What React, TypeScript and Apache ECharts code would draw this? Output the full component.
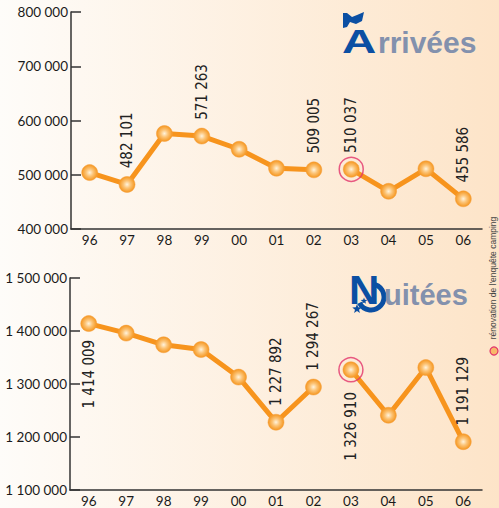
import React, { useEffect, useRef } from "react";
import * as echarts from "echarts";

const categories = ["96", "97", "98", "99", "00", "01", "02", "03", "04", "05", "06"];
const arrivees = [504000, 482101, 576000, 571263, 547000, 512000, 509005, 510037, 469500, 511000, 455586];
const nuitees = [1414009, 1396000, 1374000, 1365000, 1313000, 1227892, 1294267, 1326910, 1241000, 1331000, 1191129];
const arriveesTicks = [400000, 500000, 600000, 700000, 800000];
const nuiteesTicks = [1100000, 1200000, 1300000, 1400000, 1500000];
const breakIndex = 7; // new survey from 03
const arriveesLabelled: Record<number, "top" | "bottom"> = { 1: "top", 3: "top", 6: "top", 7: "top", 10: "top" };
const nuiteesLabelled: Record<number, "top" | "bottom"> = { 0: "bottom", 5: "top", 6: "top", 7: "bottom", 10: "top" };

const fmt = (v: number) => String(v).replace(/\B(?=(\d{3})+(?!\d))/g, " ");

const ORANGE = "#f7941d";
const BLUE = "#0b4fa3";
const GREYBLUE = "#8391ad";
const RING = "#e2336a";

function ballColor() {
  return new echarts.graphic.RadialGradient(0.5, 0.5, 0.5, [
    { offset: 0, color: "#fff3dc" },
    { offset: 0.45, color: "#fcc477" },
    { offset: 1, color: "#f5961f" },
  ]);
}

function buildItems(values: number[], labelled: Record<number, "top" | "bottom">, from: number, to: number) {
  return values.map((v, i) => {
    if (i < from || i >= to) return null;
    const side = labelled[i];
    if (!side) return { value: v };
    return {
      value: v,
      label: {
        show: true,
        position: side,
        rotate: 90,
        align: side === "top" ? "left" : "right",
        verticalAlign: "middle",
        distance: i === 7 && side === "bottom" ? 14 : 8,
        formatter: () => fmt(v),
        fontFamily: "'Liberation Sans Narrow', 'DejaVu Sans Condensed', sans-serif",
        fontSize: 15,
        color: "#222",
      },
    };
  });
}

function starPoints(cx: number, cy: number, r: number) {
  const pts: number[][] = [];
  for (let k = 0; k < 10; k++) {
    const a = -Math.PI / 2 + (k * Math.PI) / 5;
    const rr = k % 2 === 0 ? r : r * 0.42;
    pts.push([cx + rr * Math.cos(a), cy + rr * Math.sin(a)]);
  }
  return pts;
}

export default function App() {
  const ref = useRef<HTMLDivElement>(null);
  useEffect(() => {
    if (!ref.current) return;
    const chart = echarts.init(ref.current, undefined, { renderer: "svg" });

    const xAxisBase = {
      type: "category" as const,
      data: categories,
      boundaryGap: true,
      axisLine: { lineStyle: { color: "#333", width: 1.5 } },
      axisTick: { inside: true, length: 6, lineStyle: { color: "#333", width: 1.5 } },
      axisLabel: { color: "#1a1a1a", fontSize: 13.5, margin: 4, fontFamily: "Lato, sans-serif" },
      splitLine: { show: false },
    };
    const yAxisBase = {
      type: "value" as const,
      interval: 100000,
      axisLine: { show: true, lineStyle: { color: "#333", width: 1.5 } },
      axisTick: { show: true, inside: true, length: 10, lineStyle: { color: "#333", width: 1.5 } },
      axisLabel: { color: "#1a1a1a", fontSize: 13.5, margin: 3, fontFamily: "Lato, sans-serif", formatter: (v: number) => fmt(v) },
      splitLine: { show: false },
    };

    const lineSeries = (xi: number, data: any[]) => ({
      type: "line",
      xAxisIndex: xi,
      yAxisIndex: xi,
      data,
      symbol: "circle",
      symbolSize: 16,
      showAllSymbol: true,
      connectNulls: false,
      lineStyle: { color: ORANGE, width: 5 },
      itemStyle: { color: ballColor(), borderColor: "#f5a040", borderWidth: 0.5 },
      z: 3,
    });

    const ringSeries = (xi: number, values: number[]) => ({
      type: "scatter",
      xAxisIndex: xi,
      yAxisIndex: xi,
      data: [[categories[breakIndex], values[breakIndex]]],
      symbol: "circle",
      symbolSize: 24,
      itemStyle: { color: "rgba(0,0,0,0)", borderColor: RING, borderWidth: 1.5 },
      z: 4,
      silent: true,
    });

    chart.setOption({
      animation: false,
      backgroundColor: new echarts.graphic.LinearGradient(0, 0, 1, 0, [
        { offset: 0, color: "#fefcf9" },
        { offset: 1, color: "#fde4c8" },
      ]),
      grid: [
        { left: 71, top: 12, width: 411, height: 217 },
        { left: 70, top: 278, width: 412, height: 216 },
      ],
      xAxis: [
        { ...xAxisBase, gridIndex: 0 },
        { ...xAxisBase, gridIndex: 1 },
      ],
      yAxis: [
        { ...yAxisBase, gridIndex: 0, min: arriveesTicks[0], max: arriveesTicks[arriveesTicks.length - 1] },
        { ...yAxisBase, gridIndex: 1, min: nuiteesTicks[0], max: nuiteesTicks[nuiteesTicks.length - 1] },
      ],
      series: [
        lineSeries(0, buildItems(arrivees, arriveesLabelled, 0, breakIndex)),
        lineSeries(0, buildItems(arrivees, arriveesLabelled, breakIndex, categories.length)),
        ringSeries(0, arrivees),
        lineSeries(1, buildItems(nuitees, nuiteesLabelled, 0, breakIndex)),
        lineSeries(1, buildItems(nuitees, nuiteesLabelled, breakIndex, categories.length)),
        ringSeries(1, nuitees),
      ],
      graphic: [
        // Arrivées title
        {
          type: "polygon",
          shape: { points: [[343, 13], [347, 13], [352, 17], [357, 15], [364, 12], [362, 21], [356, 24], [350, 22], [347, 27], [343, 28]] },
          style: { fill: BLUE },
        },
        {
          type: "text",
          x: 342,
          y: 58,
          scaleX: 1.4,
          style: { text: "A", fontSize: 34, fontWeight: "bold", fontFamily: "'Liberation Sans', sans-serif", fill: BLUE, verticalAlign: "bottom", align: "left" },
        },
        {
          type: "text",
          x: 378,
          y: 57,
          style: { text: "rrivées", fontSize: 30, fontWeight: "bold", fontFamily: "'Liberation Sans', sans-serif", fill: GREYBLUE, verticalAlign: "bottom", align: "left" },
        },
        // Nuitées title
        {
          type: "text",
          x: 349,
          y: 310,
          scaleX: 1.05,
          style: { text: "N", fontSize: 40, fontWeight: "bold", fontFamily: "'Liberation Sans', sans-serif", fill: BLUE, verticalAlign: "bottom", align: "left" },
        },
        {
          type: "arc",
          shape: { cx: 371, cy: 297, r: 13, startAngle: -Math.PI * 0.4, endAngle: Math.PI * 0.85 },
          style: { stroke: BLUE, lineWidth: 5, fill: "none" },
        },
        { type: "polygon", shape: { points: starPoints(357, 309, 5) }, style: { fill: BLUE } },
        { type: "polygon", shape: { points: starPoints(364, 301, 3.5) }, style: { fill: BLUE } },
        {
          type: "text",
          x: 384,
          y: 309,
          style: { text: "uitées", fontSize: 29, fontWeight: "bold", fontFamily: "'Liberation Sans', sans-serif", fill: GREYBLUE, verticalAlign: "bottom", align: "left" },
        },
        // side note
        {
          type: "text",
          x: 493,
          y: 278,
          rotation: Math.PI / 2,
          style: { text: "rénovation de l'enquête camping", fontSize: 8.5, fontFamily: "'Liberation Sans', sans-serif", fill: "#444", align: "center", verticalAlign: "middle" },
        },
        {
          type: "circle",
          shape: { cx: 494, cy: 351, r: 4 },
          style: { fill: "#f8b86a", stroke: RING, lineWidth: 1.2 },
        },
      ],
    });
    return () => chart.dispose();
  }, []);
  return <div ref={ref} style={{ position: "fixed", left: 0, top: 0, width: 499, height: 508 }} />;
}
